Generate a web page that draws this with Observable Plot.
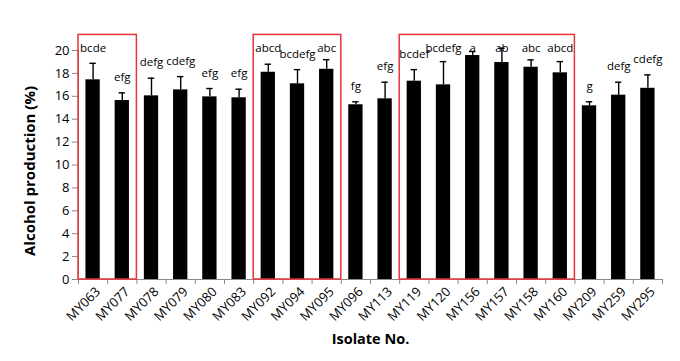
<!DOCTYPE html>
<html>
<head>
<meta charset="utf-8">
<script src="https://cdn.jsdelivr.net/npm/d3@7"></script>
<script src="https://cdn.jsdelivr.net/npm/@observablehq/plot@0.6"></script>
<style>
  html, body { margin: 0; padding: 0; background: #fff; }
  #chart { width: 680px; height: 361px; }
</style>
</head>
<body>
<div id="chart"></div>
<script>
const categories = ["MY063","MY077","MY078","MY079","MY080","MY083","MY092","MY094","MY095","MY096","MY113","MY119","MY120","MY156","MY157","MY158","MY160","MY209","MY259","MY295"];
const values = [17.44, 15.63, 16.04, 16.56, 15.95, 15.87, 18.10, 17.09, 18.36, 15.26, 15.78, 17.32, 17.00, 19.56, 18.95, 18.54, 18.05, 15.17, 16.10, 16.70];
const errors = [1.44, 0.67, 1.54, 1.16, 0.73, 0.75, 0.70, 1.24, 0.84, 0.26, 1.45, 1.01, 2.03, 0.35, 1.25, 0.64, 0.98, 0.35, 1.13, 1.17];
const letters = ["bcde","efg","defg","cdefg","efg","efg","abcd","bcdefg","abc","fg","efg","bcdef","bcdefg","a","ab","abc","abcd","g","defg","cdefg"];
const groups = [["MY063","MY077"],["MY092","MY095"],["MY119","MY160"]];
const yTicks = [0,2,4,6,8,10,12,14,16,18,20];
const yLabel = "Alcohol production (%)";
const xLabel = "Isolate No.";
const boxTop = 21.36;
const labelCap = 20.2;

const data = categories.map((c, i) => ({i, c, v: values[i], e: errors[i], t: letters[i]}));
const boxes = groups.map(([a, b]) => ({x1: categories.indexOf(a), x2: categories.indexOf(b) + 1}));
const gray = "#8a8a8a";
const font = "'Open Sans', 'Noto Sans', sans-serif";

const plot = Plot.plot({
  width: 680,
  height: 361,
  marginLeft: 78,
  marginRight: 18,
  marginTop: 50,
  marginBottom: 82,
  style: {fontFamily: font, fontSize: "12px", color: "#000", background: "#fff"},
  x: {type: "linear", domain: [0, categories.length]},
  y: {domain: [0, 20]},
  marks: [
    Plot.rectY(data, {x1: d => d.i + 0.255, x2: d => d.i + 0.745, y1: 0, y2: "v", fill: "#000"}),
    Plot.ruleX(data, {x: d => d.i + 0.5, y1: "v", y2: d => d.v + d.e, stroke: "#000", strokeWidth: 1.4}),
    Plot.ruleY(data, {x1: d => d.i + 0.39, x2: d => d.i + 0.61, y: d => d.v + d.e, stroke: "#000", strokeWidth: 1.4}),
    Plot.text(data, {x: d => d.i + 0.5, y: d => Math.min(d.v + d.e + 1.35, labelCap), text: "t", fontSize: 11.5, fill: "#000"}),
    Plot.ruleY([0], {stroke: gray}),
    Plot.ruleX([0], {y1: 0, y2: 20, stroke: gray}),
    Plot.axisY({ticks: yTicks, tickSize: 6, tickPadding: 3, stroke: gray, fontSize: 13, label: null}),
    Plot.axisX({ticks: d3.range(0, categories.length + 1), tickFormat: () => "", tickSize: 5, stroke: gray, label: null}),
    Plot.axisX({ticks: d3.range(0, categories.length).map(i => i + 0.5), tickFormat: v => categories[Math.floor(v)], tickSize: 0, tickPadding: 10, tickRotate: -45, fontSize: 13, dx: 5, label: null}),
    Plot.rect(boxes, {x1: "x1", x2: "x2", y1: 0, y2: boxTop, fill: "none", stroke: "#e8333b", strokeWidth: 1.5}),
    Plot.text([xLabel], {frameAnchor: "bottom", dy: 64, fontWeight: "bold", fontSize: 14.5, fill: "#000"}),
    Plot.text([yLabel], {frameAnchor: "left", textAnchor: "middle", rotate: -90, dx: -48, dy: 6, fontWeight: "bold", fontSize: 15, fill: "#000"})
  ]
});
document.getElementById("chart").appendChild(plot);
</script>
</body>
</html>
